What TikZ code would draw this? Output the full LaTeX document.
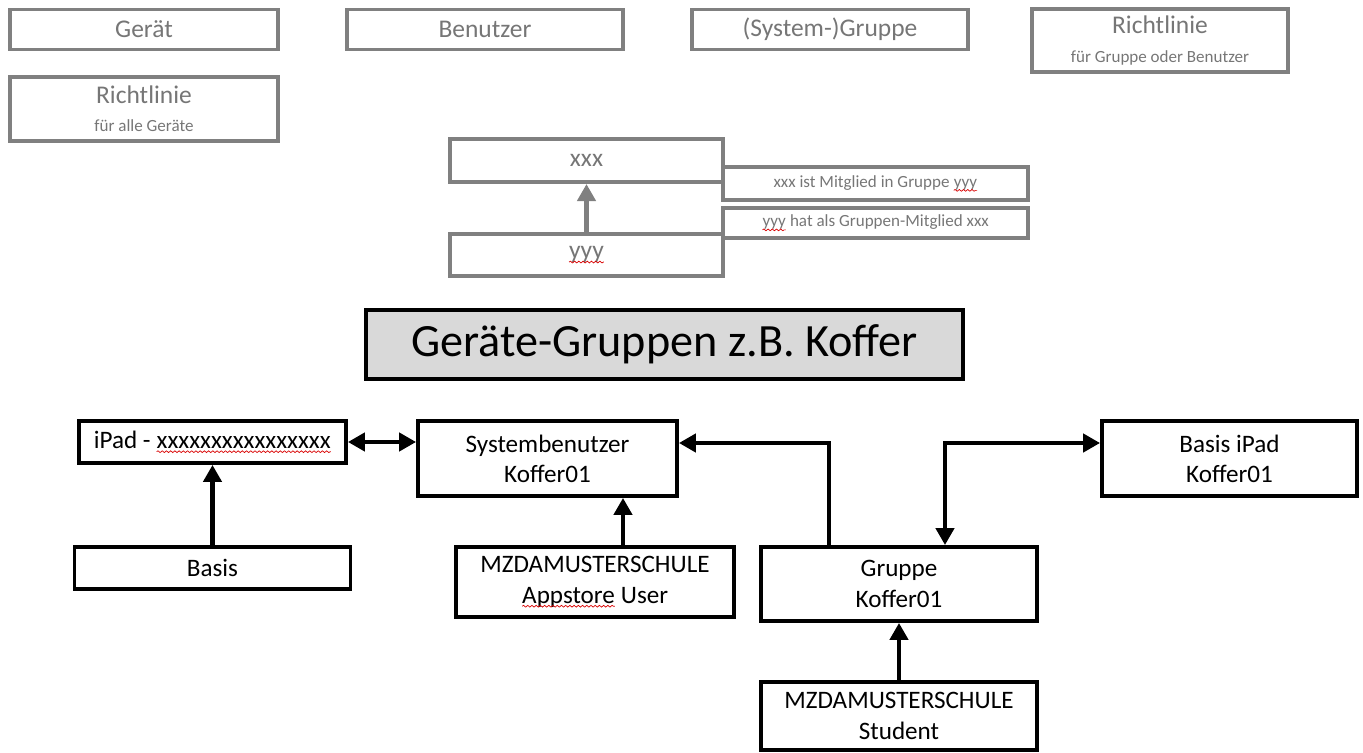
\documentclass[tikz,border=0pt]{standalone}
\usepackage{fontspec}
\setmainfont{Carlito}
\usetikzlibrary{positioning,arrows.meta,decorations.pathmorphing}

\definecolor{boxgray}{RGB}{128,128,128}
\definecolor{txtgray}{RGB}{118,118,118}
\definecolor{titlefill}{RGB}{217,217,217}

% red spell-check wave under a word
\newcommand{\wavy}[1]{\tikz[baseline=(w.base)]{\node[draw=none,fill=none,inner sep=0pt,outer sep=0pt,minimum width=0pt,minimum height=0pt] (w) {#1};
  \draw[red!85!black,line width=0.4pt,decorate,decoration={snake,amplitude=0.5pt,segment length=2.4pt}] ([yshift=-1.8pt]w.base west) -- ([yshift=-1.8pt]w.base east);}}

\begin{document}
\begin{tikzpicture}[x=0.02cm,y=-0.02cm,
  legendbox/.style={rectangle,draw=boxgray,line width=2pt,text=txtgray,font=\fontsize{14.5}{17}\selectfont},
  membox/.style={rectangle,draw=boxgray,line width=2pt,text=txtgray,font=\fontsize{9.7}{11.6}\selectfont,minimum width=6.1cm},
  itembox/.style={rectangle,draw,line width=2.2pt,align=center,font=\fontsize{14.3}{17.2}\selectfont},
  arr/.style={-{Triangle[length=0.34cm,width=0.36cm]},line width=2.8pt},
  darr/.style={{Triangle[length=0.34cm,width=0.36cm]}-{Triangle[length=0.34cm,width=0.36cm]},line width=2.8pt}
]
\useasboundingbox (0,0) rectangle (1363,753);

% legend
\node [legendbox,minimum width=5.36cm,minimum height=0.8cm] (geraet) at (144,29.5) {Gerät};
\node [legendbox,minimum width=5.52cm,minimum height=0.8cm] (benutzer) at (485,29.5) {Benutzer};
\node [legendbox,minimum width=5.52cm,minimum height=0.8cm] (systemgruppe) at (830,29.5) {(System-)Gruppe};
\node [legendbox,align=center,minimum width=5.12cm,minimum height=1.26cm] (rl gruppe) at (1160,40.5) {Richtlinie\\[-1pt]{\fontsize{9.7}{11}\selectfont für Gruppe oder Benutzer}};
\node [legendbox,align=center,minimum width=5.36cm,minimum height=1.28cm] (rl geraete) at (144,109) {Richtlinie\\[-1pt]{\fontsize{9.7}{11}\selectfont für alle Geräte}};

\node [legendbox,line width=2.3pt,minimum width=5.46cm,minimum height=0.86cm] (xxx) at (586.5,160.5) {xxx};
\node [legendbox,line width=2.3pt,minimum width=5.46cm,minimum height=0.84cm] (yyy) at (586.5,255) {\wavy{yyy}};
\node [membox,minimum height=0.66cm] (ist mitglied) at (875.5,183.5) {xxx ist Mitglied in Gruppe \wavy{yyy}};
\node [membox,minimum height=0.6cm] (hat mitglied) at (875.5,223) {\wavy{yyy} hat als Gruppen-Mitglied xxx};
\draw [arr,draw=boxgray,line width=2.4pt] (yyy) -- (xxx);

% title
\node [draw,line width=1.8pt,fill=titlefill,minimum width=11.94cm,minimum height=1.38cm,font=\fontsize{26.3}{31}\selectfont] (title) at (664.5,344.5) {Geräte-Gruppen z.B. Koffer};

% devices and groups
\node [itembox,minimum width=5.34cm,minimum height=0.84cm] (ipad) at (212.5,442) {iPad - \wavy{xxxxxxxxxxxxxxxx}};
\node [itembox,minimum width=5.18cm,minimum height=1.5cm] (sysuser) at (547.5,458.5) {Systembenutzer\\Koffer01};
\node [itembox,minimum width=5.52cm,minimum height=0.84cm] (basis) at (212.5,568) {Basis};
\node [itembox,minimum width=5.56cm,minimum height=1.4cm] (appuser) at (595,582) {MZDAMUSTERSCHULE\\\wavy{Appstore} User};
\node [itembox,minimum width=5.52cm,minimum height=1.48cm] (gruppe) at (899,584) {Gruppe\\Koffer01};
\node [itembox,minimum width=5.1cm,minimum height=1.5cm] (basis ipad) at (1229.5,458.5) {Basis iPad\\Koffer01};
\node [itembox,minimum width=5.52cm,minimum height=1.36cm] (student) at (899,716) {MZDAMUSTERSCHULE\\Student};

\draw [arr] (basis) -- (ipad);
\draw [darr] (ipad.east) -- (ipad.east -| sysuser.west);
\draw [arr] ([xshift=0.56cm]appuser.north) -- ([xshift=0.56cm]appuser.north |- sysuser.south);
\draw [arr] ([xshift=-1.4cm]gruppe.north) |- ([yshift=0.31cm]sysuser.east);
\draw [darr] ([xshift=0.92cm]gruppe.north) |- ([yshift=0.31cm]basis ipad.west);
\draw [arr] (student) -- (gruppe);

\end{tikzpicture}
\end{document}
